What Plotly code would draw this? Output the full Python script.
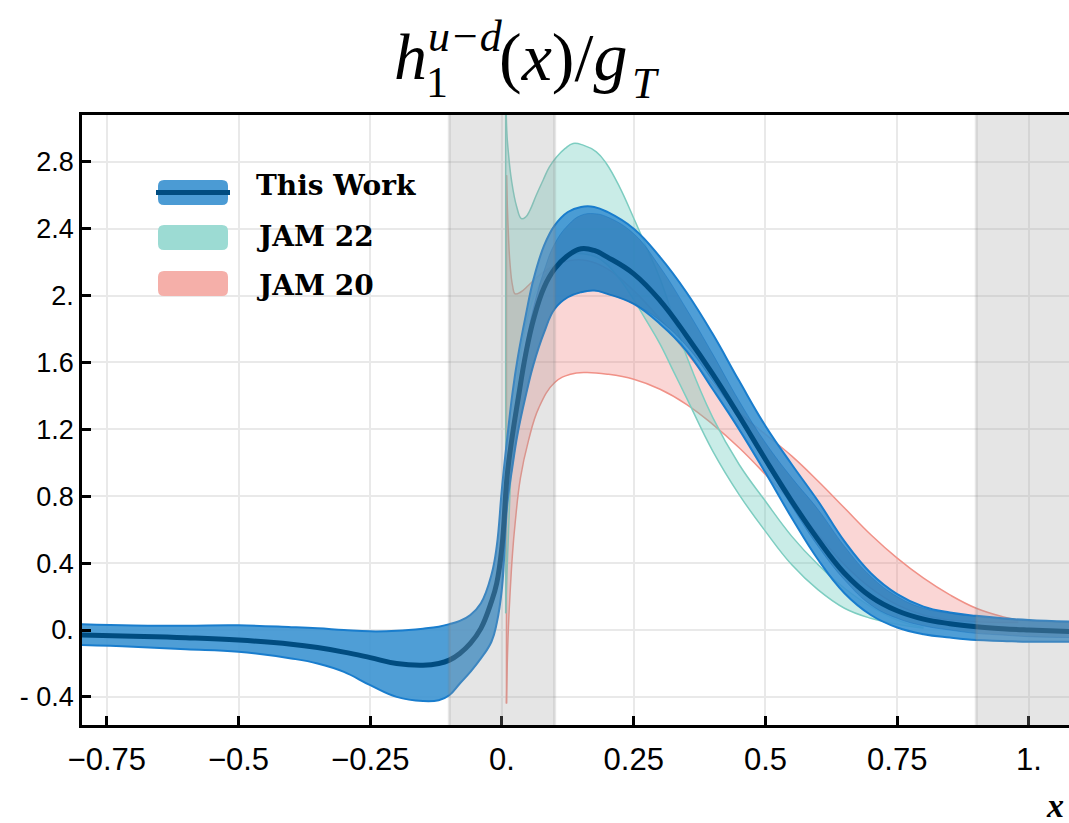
import plotly.graph_objects as go

# ---------------- data ----------------
# This Work (blue band)
bx = [-0.8, -0.7, -0.6, -0.5, -0.4, -0.35, -0.3, -0.25, -0.2, -0.15, -0.12, -0.1, -0.08, -0.06, -0.04,
      -0.02, -0.01, 0.0, 0.01, 0.02, 0.03, 0.045, 0.06, 0.08, 0.1, 0.125, 0.15, 0.175, 0.2, 0.25,
      0.3, 0.35, 0.4, 0.45, 0.5, 0.55, 0.6, 0.65, 0.7, 0.75, 0.8, 0.85, 0.9, 0.95, 1.0, 1.08]
b_center = [-0.03, -0.037, -0.046, -0.06, -0.085, -0.105, -0.132, -0.165, -0.2, -0.21, -0.2, -0.18, -0.14, -0.08, 0.01,
            0.17, 0.28, 0.5, 0.93, 1.17, 1.37, 1.65, 1.86, 2.05, 2.16, 2.24, 2.28, 2.27, 2.23, 2.13,
            1.97, 1.76, 1.53, 1.28, 1.02, 0.77, 0.54, 0.34, 0.2, 0.115, 0.065, 0.038, 0.02, 0.008, 0.0, -0.01]
b_upper = [0.035, 0.027, 0.026, 0.028, 0.017, 0.01, 0.0, -0.008, -0.005, 0.008, 0.02, 0.035, 0.055, 0.09, 0.16,
           0.33, 0.5, 0.85, 1.15, 1.42, 1.63, 1.88, 2.1, 2.3, 2.42, 2.5, 2.53, 2.53, 2.5, 2.4,
           2.23, 2.02, 1.77, 1.49, 1.22, 0.99, 0.77, 0.53, 0.34, 0.215, 0.14, 0.105, 0.085, 0.07, 0.06, 0.05]
b_lower = [-0.09, -0.1, -0.115, -0.13, -0.17, -0.2, -0.25, -0.33, -0.4, -0.425, -0.42, -0.39, -0.32, -0.25, -0.17,
           -0.07, 0.04, 0.25, 0.75, 0.98, 1.18, 1.4, 1.59, 1.78, 1.92, 1.99, 2.02, 2.03, 2.01, 1.95,
           1.83, 1.67, 1.44, 1.2, 0.94, 0.67, 0.42, 0.22, 0.09, 0.015, -0.025, -0.045, -0.06, -0.065, -0.07, -0.07]
# inner (overlap) band, x >= 0
bix = [0.0, 0.01, 0.02, 0.03, 0.045, 0.06, 0.08, 0.1, 0.125, 0.15, 0.175, 0.2, 0.25,
       0.3, 0.35, 0.4, 0.45, 0.5, 0.55, 0.6, 0.65, 0.7, 0.75, 0.8, 0.85, 0.9, 0.95, 1.0, 1.08]
bi_upper = [0.6, 0.95, 1.22, 1.43, 1.7, 1.93, 2.15, 2.31, 2.42, 2.48, 2.49, 2.47, 2.37,
            2.17, 1.92, 1.65, 1.37, 1.12, 0.91, 0.72, 0.5, 0.32, 0.2, 0.13, 0.1, 0.08, 0.065, 0.055, 0.045]
bi_lower = [0.25, 0.75, 0.98, 1.18, 1.4, 1.59, 1.78, 1.92, 1.99, 2.02, 2.03, 2.01, 1.95,
            1.85, 1.7, 1.49, 1.26, 1.0, 0.74, 0.5, 0.3, 0.15, 0.07, 0.025, 0.0, -0.02, -0.03, -0.04, -0.045]

# JAM 22 (teal band)
tx = [0.007, 0.009, 0.012, 0.018, 0.028, 0.037, 0.045, 0.053, 0.065, 0.078, 0.09, 0.104, 0.12, 0.135, 0.154,
      0.179, 0.198, 0.223, 0.249, 0.274, 0.3, 0.325, 0.35, 0.4, 0.45, 0.5, 0.55, 0.6, 0.65, 0.7, 0.75, 0.8]
t_upper = [3.5, 2.99, 2.86, 2.69, 2.53, 2.46, 2.47, 2.51, 2.6, 2.69, 2.77, 2.83, 2.88, 2.91, 2.9,
           2.86, 2.79, 2.65, 2.47, 2.29, 2.1, 1.87, 1.64, 1.27, 0.99, 0.77, 0.56, 0.39, 0.25, 0.14, 0.06, 0.015]
t_lower = [0.1, 0.3, 0.55, 1.0, 1.45, 1.68, 1.82, 1.92, 2.03, 2.1, 2.15, 2.2, 2.23, 2.25, 2.25,
           2.23, 2.19, 2.1, 1.98, 1.85, 1.71, 1.55, 1.39, 1.07, 0.81, 0.59, 0.39, 0.24, 0.13, 0.07, 0.035, 0.01]

# JAM 20 (red band)
rx = [0.0085, 0.01, 0.012, 0.015, 0.02, 0.025, 0.035, 0.05, 0.07, 0.1, 0.13, 0.16, 0.2, 0.25, 0.3,
      0.35, 0.4, 0.45, 0.5, 0.55, 0.6, 0.65, 0.7, 0.75, 0.8, 0.85, 0.9, 0.95, 0.98]
r_upper = [2.72, 2.55, 2.38, 2.2, 2.06, 2.01, 2.02, 2.06, 2.12, 2.18, 2.21, 2.21, 2.16, 2.03, 1.86,
           1.66, 1.47, 1.3, 1.17, 1.04, 0.89, 0.73, 0.57, 0.43, 0.31, 0.21, 0.13, 0.08, 0.06]
r_lower = [-0.44, -0.2, 0.0, 0.2, 0.46, 0.64, 0.91, 1.13, 1.33, 1.48, 1.53, 1.54, 1.53, 1.5, 1.44,
           1.35, 1.23, 1.09, 0.93, 0.76, 0.57, 0.39, 0.25, 0.15, 0.09, 0.06, 0.05, 0.045, 0.045]

x_ticks = [-0.75, -0.5, -0.25, 0.0, 0.25, 0.5, 0.75, 1.0]
x_ticktext = ["\u22120.75", "\u22120.5", "\u22120.25", "0.", "0.25", "0.5", "0.75", "1."]
y_ticks = [-0.4, 0.0, 0.4, 0.8, 1.2, 1.6, 2.0, 2.4, 2.8]
y_ticktext = ["- 0.4", "0.", "0.4", "0.8", "1.2", "1.6", "2.", "2.4", "2.8"]
legend_names = ["This Work", "JAM 22", "JAM 20"]
shade_regions = [(-0.1, 0.1), (0.9, 1.08)]

X_RANGE = [-0.797, 1.076]
Y_RANGE = [-0.568, 3.08]

# ---------------- styles ----------------
BLUE_FILL = "rgba(60,148,210,0.9)"
BLUE_INNER = "rgba(30,100,160,0.35)"
BLUE_EDGE = "rgb(25,125,205)"
NAVY = "rgb(0,76,128)"
TEAL_FILL = "rgba(100,200,185,0.35)"
TEAL_EDGE = "rgb(125,205,193)"
RED_FILL = "rgba(240,120,115,0.3)"
RED_EDGE = "rgb(240,145,135)"
SM = 1.2

fig = go.Figure()


def band(x, lo, hi, fill, edge, ew):
    fig.add_trace(go.Scatter(x=x, y=lo, mode="lines", line=dict(color=edge, width=ew, shape="spline", smoothing=SM),
                             showlegend=False, hoverinfo="skip"))
    fig.add_trace(go.Scatter(x=x, y=hi, mode="lines", fill="tonexty", fillcolor=fill,
                             line=dict(color=edge, width=ew, shape="spline", smoothing=SM),
                             showlegend=False, hoverinfo="skip"))


band(rx, r_lower, r_upper, RED_FILL, RED_EDGE, 1.5)
fig.add_trace(go.Scatter(x=[rx[0], rx[0]], y=[r_lower[0], r_upper[0]], mode="lines",
                         line=dict(color=RED_EDGE, width=1.5), showlegend=False, hoverinfo="skip"))
band(tx, t_lower, t_upper, TEAL_FILL, TEAL_EDGE, 1.5)
fig.add_trace(go.Scatter(x=[tx[0], tx[0]], y=[t_lower[0], t_upper[0]], mode="lines",
                         line=dict(color=TEAL_EDGE, width=1.5), showlegend=False, hoverinfo="skip"))
band(bx, b_lower, b_upper, BLUE_FILL, BLUE_EDGE, 2)
band(bix, bi_lower, bi_upper, BLUE_INNER, "rgba(25,115,190,0.45)", 1)
fig.add_trace(go.Scatter(x=bx, y=b_center, mode="lines",
                         line=dict(color=NAVY, width=5, shape="spline", smoothing=SM),
                         showlegend=False, hoverinfo="skip"))

# ---------------- shapes ----------------
shapes = []
shapes.append(dict(type="line", xref="x", yref="paper", x0=0, x1=0, y0=0, y1=1,
                   line=dict(color="#5a5a5a", width=2), layer="below"))
shapes.append(dict(type="line", xref="paper", yref="y", x0=0, x1=1, y0=0, y1=0,
                   line=dict(color="#5a5a5a", width=2), layer="below"))
for a, b in shade_regions:
    shapes.append(dict(type="rect", xref="x", yref="paper", x0=a, x1=min(b, X_RANGE[1]), y0=0, y1=1,
                       fillcolor="rgba(160,160,160,0.27)", line=dict(width=0), layer="above"))
    for e in (a, b):
        if e < X_RANGE[1]:
            shapes.append(dict(type="line", xref="x", yref="paper", x0=e, x1=e, y0=0, y1=1,
                               line=dict(color="rgba(120,120,120,0.18)", width=3), layer="above"))

L, T, W, H = 82, 115, 987, 610


def PX(X):
    return (X - L) / W


def PY(Y):
    return (T + H - Y) / H


def rrect(X0, Y0, X1, Y1, r=6):
    x0, x1 = PX(X0), PX(X1)
    y0, y1 = PY(Y1), PY(Y0)
    rx_, ry_ = r / W, r / H
    return (f"M {x0+rx_},{y0} L {x1-rx_},{y0} Q {x1},{y0} {x1},{y0+ry_} L {x1},{y1-ry_} "
            f"Q {x1},{y1} {x1-rx_},{y1} L {x0+rx_},{y1} Q {x0},{y1} {x0},{y1-ry_} "
            f"L {x0},{y0+ry_} Q {x0},{y0} {x0+rx_},{y0} Z")


sw_colors = ["rgb(75,155,212)", "rgb(156,219,211)", "rgb(245,175,169)"]
sw_rows = [(180, 205), (225, 250), (271, 296)]
for col, (y0, y1) in zip(sw_colors, sw_rows):
    shapes.append(dict(type="path", xref="paper", yref="paper", path=rrect(158, y0, 228, y1),
                       fillcolor=col, line=dict(width=0), layer="above"))
shapes.append(dict(type="line", xref="paper", yref="paper", x0=PX(156), x1=PX(230), y0=PY(192.5), y1=PY(192.5),
                   line=dict(color=NAVY, width=5), layer="above"))

annotations = []
for name, yc in zip(legend_names, [185, 237, 285]):
    annotations.append(dict(text=name, xref="paper", yref="paper", x=PX(254), y=PY(yc),
                            xanchor="left", yanchor="middle", showarrow=False,
                            font=dict(family="DejaVu Serif", size=28, color="black", weight="bold")))

TF = "Liberation Serif"
annotations += [
    dict(text="<i>h</i>", x=PX(410), y=PY(56), font=dict(family=TF, size=66, color="black")),
    dict(text="<i>u\u2212d</i>", x=PX(465), y=PY(36), font=dict(family=TF, size=44, color="black")),
    dict(text="1", x=PX(437), y=PY(82), font=dict(family=TF, size=44, color="black")),
    dict(text="(<i>x</i>)/<i>g</i>", x=PX(563), y=PY(57), font=dict(family=TF, size=68, color="black")),
    dict(text="<i>T</i>", x=PX(646), y=PY(83), font=dict(family=TF, size=44, color="black")),
    dict(text="<b><i>x</i></b>", x=PX(1055), y=PY(806), font=dict(family=TF, size=34, color="black")),
]
for a in annotations[-6:]:
    a.update(xref="paper", yref="paper", xanchor="center", yanchor="middle", showarrow=False)

fig.update_layout(
    width=1069, height=823,
    margin=dict(l=L, r=0, t=T, b=823 - T - H),
    paper_bgcolor="white", plot_bgcolor="white",
    shapes=shapes, annotations=annotations, showlegend=False,
    xaxis=dict(range=X_RANGE, tickvals=x_ticks, ticktext=x_ticktext, showgrid=True,
               gridcolor="#e9e9e9", gridwidth=2, zeroline=False, showline=True, linecolor="black",
               linewidth=2.5, mirror=True, ticks="inside", ticklen=9, tickwidth=2.5, tickcolor="black",
               ticklabelstandoff=5,
               tickfont=dict(family="Liberation Sans, Arial", size=31, color="black")),
    yaxis=dict(range=Y_RANGE, tickvals=y_ticks, ticktext=y_ticktext, showgrid=True,
               gridcolor="#e9e9e9", gridwidth=2, zeroline=False, showline=True, linecolor="black",
               linewidth=2.5, ticks="inside", ticklen=9, tickwidth=2.5, tickcolor="black",
               ticklabelstandoff=0,
               tickfont=dict(family="Liberation Sans, Arial", size=27, color="black")),
)

fig.write_html("out.html")
